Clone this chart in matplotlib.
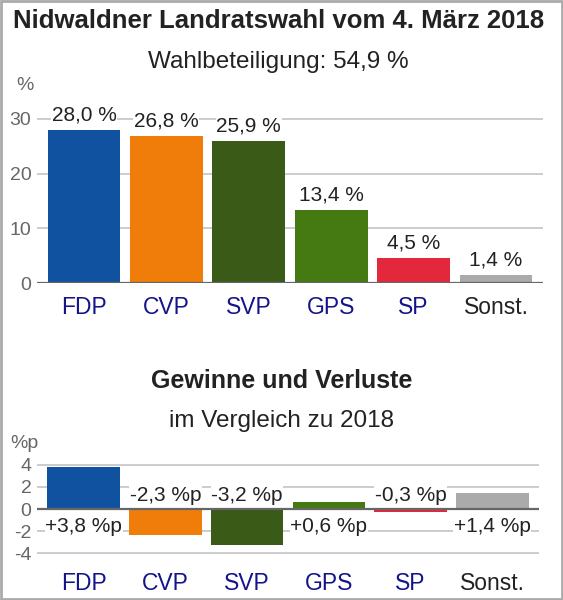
import matplotlib
matplotlib.use("Agg")
import matplotlib.pyplot as plt
from matplotlib.patches import Rectangle

plt.rcParams["font.family"] = ["Liberation Sans", "DejaVu Sans"]

parties = ["FDP", "CVP", "SVP", "GPS", "SP", "Sonst."]
shares = [28.0, 26.8, 25.9, 13.4, 4.5, 1.4]
changes = [3.8, -2.3, -3.2, 0.6, -0.3, 1.4]
colors = ["#1152a0", "#f07d0a", "#3a5a17", "#457a12", "#e3283c", "#aaaaaa"]
label_colors = ["#14148a", "#14148a", "#14148a", "#14148a", "#14148a", "#222222"]
top_ticks = [0, 10, 20, 30]
bottom_ticks = [-4, -2, 0, 2, 4]

W, H = 563, 600
fig = plt.figure(figsize=(W / 100, H / 100), dpi=100)


def px_axes(left, right, top, bottom):
    return fig.add_axes([left / W, 1 - bottom / H, (right - left) / W, (bottom - top) / H])


def fmt(v, unit, sign=False):
    s = f"{v:+.1f}" if sign else f"{v:.1f}"
    return s.replace(".", ",") + " " + unit


def style(ax, ticks):
    ax.set_yticks(ticks)
    ax.set_yticklabels([str(t) for t in ticks])
    ax.tick_params(axis="y", length=0, pad=4, labelsize=14, labelcolor="#666666")
    ax.tick_params(axis="x", length=0, pad=9, labelsize=16.5)
    for s in ax.spines.values():
        s.set_visible(False)
    ax.grid(axis="y", color="#cccccc", lw=1.4)
    ax.set_axisbelow(True)
    ax.set_xticks(range(len(parties)))
    ax.set_xticklabels(parties)
    for lab, c in zip(ax.get_xticklabels(), label_colors):
        lab.set_color(c)
    ax.set_xlim(-0.57, 5.57)


box = dict(facecolor="white", edgecolor="none", pad=0.5)

# top chart
ax1 = px_axes(37, 543, 108, 283)
ax1.bar(range(len(parties)), shares, width=0.885, color=colors)
ax1.set_ylim(0, 32)
style(ax1, top_ticks)
ax1.axhline(0, color="#666666", lw=1.6)
for i, v in enumerate(shares):
    ax1.annotate(fmt(v, "%"), (i, v), xytext=(0, 4), textcoords="offset points",
                 ha="center", va="bottom", fontsize=15, color="#222222", bbox=box)
fig.text(25 / W, 1 - 85 / H, "%", fontsize=14, color="#666666", ha="center", va="center")

# bottom chart
ax2 = px_axes(37, 539, 459, 559)
ax2.bar(range(len(parties)), changes, width=0.885, color=colors)
ax2.set_ylim(-4.5, 4.5)
style(ax2, bottom_ticks)
ax2.axhline(0, color="#666666", lw=1.6)
for i, v in enumerate(changes):
    off, va = (-6, "top") if v > 0 else (3, "bottom")
    ax2.annotate(fmt(v, "%p", sign=True), (i, 0), xytext=(0, off), textcoords="offset points",
                 ha="center", va=va, fontsize=15, color="#222222", bbox=box)
fig.text(24 / W, 1 - 444 / H, "%p", fontsize=14, color="#666666", ha="center", va="center")

# titles
fig.text(0.495, 1 - 21 / H, "Nidwaldner Landratswahl vom 4. März 2018", fontsize=18.5,
         fontweight="bold", ha="center", va="center", color="#222222")
fig.text(0.495, 1 - 62 / H, "Wahlbeteiligung: 54,9 %", fontsize=17.5,
         ha="center", va="center", color="#222222")
fig.text(0.5, 1 - 381 / H, "Gewinne und Verluste", fontsize=18,
         fontweight="bold", ha="center", va="center", color="#222222")
fig.text(0.5, 1 - 421 / H, "im Vergleich zu 2018", fontsize=17.5,
         ha="center", va="center", color="#222222")

fig.patches.append(Rectangle((0.002, 0.002), 0.996, 0.996, transform=fig.transFigure,
                             fill=False, edgecolor="#aaaaaa", lw=2))

fig.savefig("out.png", dpi=100)
